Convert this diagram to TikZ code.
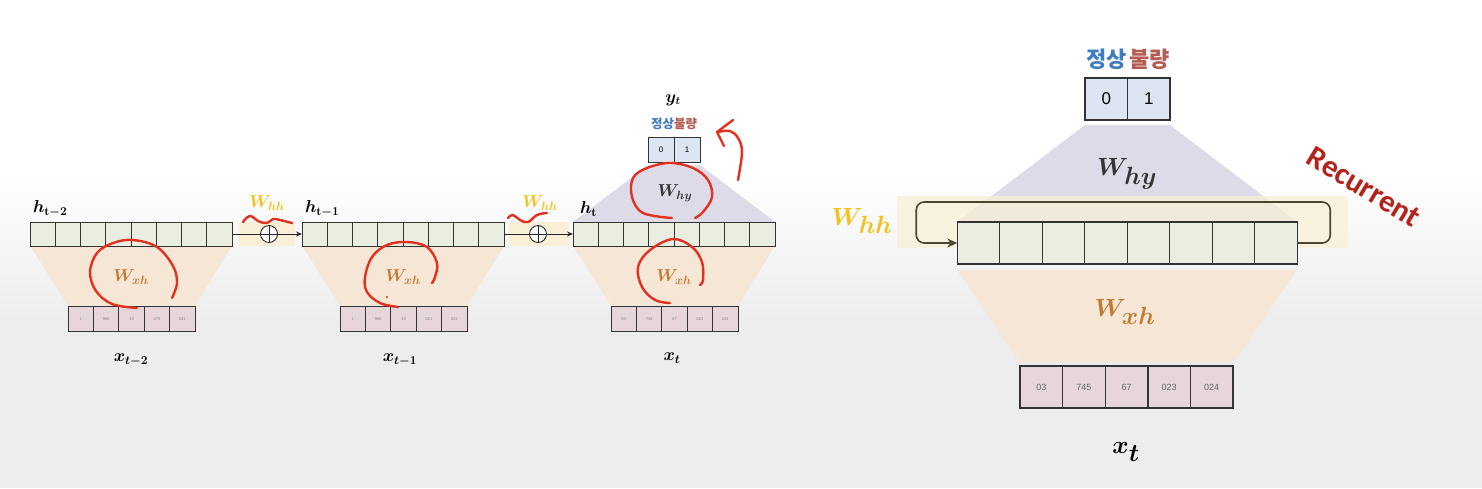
\documentclass[tikz,border=0pt]{standalone}
\usepackage{fontspec}
\usepackage{amsmath,bm}
\usetikzlibrary{arrows.meta,backgrounds}
\newfontfamily\krfont{Noto Sans CJK KR}
\newfontfamily\sansfont{Liberation Sans}
\newfontfamily\recfont{Carlito}
\definecolor{hcell}{HTML}{E9EEE1}
\definecolor{xcell}{HTML}{E6D6D9}
\definecolor{ycell}{HTML}{DCE5F1}
\definecolor{beige}{HTML}{F6E6D5}
\definecolor{purp}{HTML}{DEDBE9}
\definecolor{yel}{HTML}{F8EFD6}
\definecolor{gold}{HTML}{F1C21B}
\definecolor{wxhc}{HTML}{C27B34}
\definecolor{wdark}{HTML}{333333}
\definecolor{kblue}{HTML}{3E7DC1}
\definecolor{kred}{HTML}{B45C52}
\definecolor{scrib}{HTML}{E2311F}
\definecolor{recur}{HTML}{B2241B}
\definecolor{loopc}{HTML}{4A4632}
\definecolor{bggray}{HTML}{EDEDED}
\pgfdeclarelayer{bg0}
\pgfsetlayers{bg0,background,main}
\tikzset{
  cellbox/.style={draw=black!80, line width=1pt, inner sep=0pt, outer sep=0pt, anchor=west},
  hcs/.style={cellbox, fill=hcell, minimum width=25.25pt, minimum height=24pt},
  xcs/.style={cellbox, fill=xcell, minimum width=25.4pt, minimum height=25pt, font=\sansfont\fontsize{4}{4}\selectfont, text=black!50},
  ycs/.style={cellbox, fill=ycell, minimum width=26pt, minimum height=25pt, font=\sansfont\fontsize{8}{8}\selectfont},
  hrs/.style={cellbox, line width=1.4pt, fill=hcell, minimum width=42.5pt, minimum height=42pt},
  xrs/.style={cellbox, line width=1.4pt, fill=xcell, minimum width=42.6pt, minimum height=42pt, font=\sansfont\fontsize{9}{9}\selectfont, text=black!60},
  yrs/.style={cellbox, line width=1.4pt, fill=ycell, minimum width=42.5pt, minimum height=42pt, font=\sansfont\fontsize{17}{17}\selectfont},
  oplus/.style={circle, draw=black!85, line width=0.9pt, fill=white, minimum size=17pt, inner sep=0pt,
    path picture={\draw[line width=0.9pt] (path picture bounding box.north) -- (path picture bounding box.south)
      (path picture bounding box.west) -- (path picture bounding box.east);}},
  lbl/.style={inner sep=0pt, text=wdark},
  scribble/.style={draw=scrib, line width=2.4pt, line cap=round, line join=round},
  conn/.style={line width=0.9pt, draw=black!85},
}
\begin{document}
\begin{tikzpicture}[x=1pt,y=-1pt]
\useasboundingbox (0,0) rectangle (1482,488);
\begin{pgfonlayer}{bg0}
  \fill[white] (0,0) rectangle (1482,488);
  \shade[top color=white, bottom color=bggray] (0,170) rectangle (1482,320);
  \fill[bggray] (0,320) rectangle (1482,488);
\end{pgfonlayer}

% ---------- left: unrolled blocks ----------
\foreach \b/\ox/\labs in {a/0/{1,980,18,079,021},b/272/{1,980,18,021,023},c/543/{03,745,67,023,024}}{
  \foreach \i in {1,...,8}{
    \node[hcs] (h\b\i) at ({30+\ox+(\i-1)*25.25},234) {};
  }
  \foreach \lab [count=\i] in \labs {
    \node[xcs] (x\b\i) at ({68+\ox+(\i-1)*25.4},319) {\lab};
  }
  \begin{pgfonlayer}{background}
    \fill[beige] (h\b1.south west) -- (h\b8.south east) -- ([yshift=1pt]x\b5.north east) -- ([yshift=1pt]x\b1.north west) -- cycle;
  \end{pgfonlayer}
  \node[lbl, text=wxhc, font=\fontsize{18}{18}\selectfont] (wxh\b) at ({131+\ox},277) {$\bm{W_{xh}}$};
}

% hidden-state labels
\node[lbl, anchor=west, text=black, font=\fontsize{17}{17}\selectfont] (hla) at (33,209) {$\bm{h_{\mathrm{t}-2}}$};
\node[lbl, anchor=west, text=black, font=\fontsize{17}{17}\selectfont] (hlb) at (305,209) {$\bm{h_{\mathrm{t}-1}}$};
\node[lbl, anchor=west, text=black, font=\fontsize{17}{17}\selectfont] (hlc) at (580,209) {$\bm{h_{\mathrm{t}}}$};

% input labels
\node[lbl, text=black, font=\fontsize{17}{17}\selectfont] (xla) at (131,360) {$\bm{x_{t-2}}$};
\node[lbl, text=black, font=\fontsize{17}{17}\selectfont] (xlb) at (400,360) {$\bm{x_{t-1}}$};
\node[lbl, text=black, font=\fontsize{17}{17}\selectfont] (xlc) at (672,358) {$\bm{x_{t}}$};

% recurrent links between blocks
\begin{pgfonlayer}{background}
  \fill[yel] ([xshift=7pt]ha8.north east) rectangle ([xshift=-7pt]hb1.south west);
  \fill[yel] ([xshift=5pt]hb8.north east) rectangle ([xshift=-4pt]hc1.south west);
\end{pgfonlayer}
\node[oplus] (pa) at (269,234) {};
\node[oplus] (pb) at (538,234) {};
\draw[conn] (ha8.east) -- (pa);
\draw[conn, -{Stealth[length=6pt,width=5pt]}] (pa) -- (hb1.west);
\draw[conn] (hb8.east) -- (pb);
\draw[conn, -{Stealth[length=6pt,width=5pt]}] (pb) -- (hc1.west);
\node[lbl, text=gold, font=\fontsize{18}{18}\selectfont] (whha) at (267,203) {$\bm{W_{hh}}$};
\node[lbl, text=gold, font=\fontsize{18}{18}\selectfont] (whhb) at (540,203) {$\bm{W_{hh}}$};

% output of last block
\node[ycs] (yc1) at (648,149.5) {0};
\node[ycs] (yc2) at (674,149.5) {1};
\begin{pgfonlayer}{background}
  \fill[purp] ([yshift=-3pt]yc1.south west) -- ([yshift=-3pt]yc2.south east) -- (hc8.north east) -- (hc1.north west) -- cycle;
\end{pgfonlayer}
\node[lbl, font=\fontsize{18}{18}\selectfont] (whyc) at (675,193) {$\bm{W_{hy}}$};
\node[lbl, font=\krfont\bfseries\fontsize{12.5}{12.5}\selectfont] (korc) at (674,124) {{\color{kblue}정상}{\color{kred}불량}};
\node[lbl, text=black, font=\fontsize{16}{16}\selectfont] (ytc) at (673,100) {$\bm{y_t}$};

% ---------- right: folded RNN ----------
\foreach \i in {1,...,8}{
  \node[hrs] (hr\i) at ({957.25+(\i-1)*42.5},243) {};
}
\foreach \lab [count=\i] in {03,745,67,023,024}{
  \node[xrs] (xr\i) at ({1020+(\i-1)*42.6},387) {\lab};
}
\node[yrs] (yr1) at (1085,99) {0};
\node[yrs] (yr2) at (1127.5,99) {1};
\begin{pgfonlayer}{background}
  \fill[purp] ([yshift=-5pt]yr1.south west) -- ([yshift=-5pt]yr2.south east) -- (hr8.north east) -- (hr1.north west) -- cycle;
  \fill[beige] ([yshift=-6pt]hr1.south west) -- ([yshift=-6pt]hr8.south east) -- ([yshift=4pt]xr5.north east) -- ([yshift=4pt]xr1.north west) -- cycle;
  \fill[yel, fill opacity=0.75] (897,196) rectangle (1348,248);
\end{pgfonlayer}
\draw[loopc, line width=1.6pt, rounded corners=8pt, -{Stealth[length=10pt,width=9pt]}]
  (hr8.east) -- ++(33,0) -- ++(0,-41) -- ++(-414,0) -- ++(0,41) -- (hr1.west);
\node[lbl, text=gold, font=\fontsize{36}{36}\selectfont] (whhr) at (862,221) {$\bm{W_{hh}}$};
\node[lbl, font=\fontsize{38}{38}\selectfont] (whyr) at (1127,174) {$\bm{W_{hy}}$};
\node[lbl, text=wxhc, font=\fontsize{36}{36}\selectfont] (wxhr) at (1125,312) {$\bm{W_{xh}}$};
\node[lbl, text=black, font=\fontsize{38}{38}\selectfont] (xtr) at (1126,452) {$\bm{x_t}$};
\node[lbl, font=\krfont\bfseries\fontsize{22}{22}\selectfont] (korr) at (1128,59) {{\color{kblue}정상}\hspace{0.1em}{\color{kred}불량}};
\node[lbl, text=recur, rotate=-31, font=\recfont\bfseries\fontsize{31}{31}\selectfont] (rec) at (1364,187) {Recurrent};

% ---------- red hand-drawn annotations ----------
\draw[scribble] plot[smooth, tension=0.7] coordinates {(243,222) (250,216) (258,221) (267,223) (273,219) (280,220) (292,223)};
\draw[scribble] plot[smooth, tension=0.7] coordinates {(508,218) (513,215) (520,220) (528,222) (537,215) (547,213)};
\draw[scribble] plot[smooth, tension=0.6] coordinates {(137,308) (112,304) (96,291) (90,272) (97,253) (113,243) (133,240) (157,247) (173,266) (177,283) (172,298)};
\draw[scribble] plot[smooth, tension=0.6] coordinates {(398,307) (380,303) (367,292) (365,277) (372,257) (387,245) (407,242) (427,247) (437,263) (435,277) (432,283)};
\fill[scrib] (387,297) circle (1.2);
\draw[scribble] plot[smooth, tension=0.6] coordinates {(672,218) (643,213) (632,197) (633,178) (647,168) (670,163) (693,168) (708,180) (712,197) (703,212) (695,218)};
\draw[scribble] plot[smooth, tension=0.6] coordinates {(670,303) (655,300) (642,287) (638,267) (650,250) (673,239) (692,247) (702,262) (703,280) (700,285)};
\draw[scribble] plot[smooth, tension=0.6] coordinates {(738,180) (742,152) (738,138) (730,131) (718,132)};
\draw[scribble] (733,120) -- (717,132) -- (724,146);
\end{tikzpicture}
\end{document}
